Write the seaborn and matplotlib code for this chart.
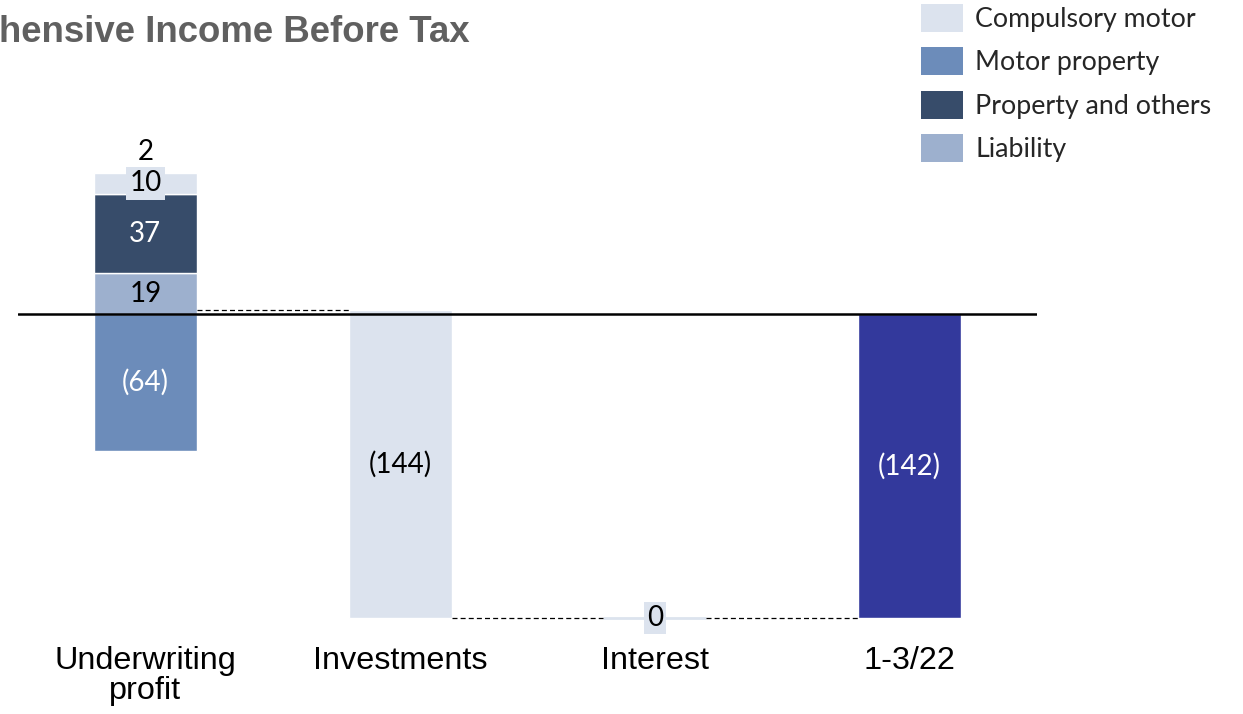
import matplotlib
matplotlib.use("Agg")
import matplotlib.pyplot as plt
from matplotlib.patches import Patch
import seaborn as sns

# ---- data ----
categories = ["Underwriting\nprofit", "Investments", "Interest", "1-3/22"]
segment_names = ["Compulsory motor", "Motor property", "Property and others", "Liability"]
segment_colors = ["#DCE3EE", "#6C8CBA", "#374C6A", "#9DB0CE"]
# underwriting profit split by line of business (stacked upward in this order)
stack_order = ["Motor property", "Liability", "Property and others", "Compulsory motor"]
underwriting_values = {"Compulsory motor": 10, "Motor property": -64,
                       "Property and others": 37, "Liability": 19}
investments_value = -144
interest_value = 0
total_color = "#33399C"

# ---- figure ----
W, H = 1243, 714
sns.set_theme(style="white")
plt.rcParams["font.family"] = ["Lato", "DejaVu Sans"]
fig = plt.figure(figsize=(W / 100, H / 100), dpi=100)
ax = fig.add_axes([18 / W, (H - 640) / H, 1019 / W, 510 / H])

BAR_W = 0.405


def bar(cat, height, bottom, color, **kw):
    sns.barplot(x=[cat], y=[height], order=categories, width=BAR_W, bottom=bottom,
                color=color, saturation=1, errorbar=None, ax=ax, **kw)


def fmt(v):
    if v < 0:
        return f"({abs(v):g})"
    return f"{v:g}"


label_font = dict(fontsize=20, family=["Lato", "DejaVu Sans"])

# stacked underwriting bar: negatives go down from zero, positives stack up
pos_base, neg_base = 0, 0
seg_pos = {}
for name in stack_order:
    v = underwriting_values[name]
    col = segment_colors[segment_names.index(name)]
    if v >= 0:
        base = pos_base
        pos_base += v
    else:
        base = neg_base
        neg_base += v
    seg_pos[name] = (base, v)
    bar(categories[0], v, base, col)

uw_total = sum(underwriting_values.values())

# segment value labels
label_colors = {"Motor property": "white", "Liability": "black",
                "Property and others": "white", "Compulsory motor": "black"}
for name in stack_order:
    base, v = seg_pos[name]
    mid = base + v / 2
    kw = {}
    if name == "Compulsory motor":
        kw["bbox"] = dict(boxstyle="square,pad=0.12", fc=segment_colors[0], ec="none")
    ax.text(0, mid, fmt(v), ha="center", va="center", color=label_colors[name],
            zorder=6, **label_font, **kw)
ax.text(0, pos_base + 3.5, fmt(uw_total), ha="center", va="bottom", color="black",
        zorder=6, **label_font)

# investments floating bar
inv_end = uw_total + investments_value
bar(categories[1], investments_value, uw_total, segment_colors[0])
ax.text(1, uw_total + investments_value / 2, fmt(investments_value), ha="center",
        va="center", color="black", zorder=6, **label_font)

# interest (zero-height) bar
int_end = inv_end + interest_value
bar(categories[2], interest_value, inv_end, segment_colors[0],
    edgecolor=segment_colors[0], linewidth=2)
ax.text(2, int_end, fmt(interest_value), ha="center", va="center", color="black",
        zorder=6, bbox=dict(boxstyle="square,pad=0.1", fc=segment_colors[0], ec="none"),
        **label_font)

# total bar
final_total = int_end
bar(categories[3], final_total, 0, total_color)
ax.text(3, final_total / 2, fmt(final_total), ha="center", va="center", color="white",
        zorder=6, **label_font)

# dashed connectors between bars
h = BAR_W / 2
dash = dict(color="black", lw=0.9, ls=(0, (4, 2.5)), zorder=4)
ax.plot([0 + h, 1 - h], [uw_total, uw_total], **dash)
ax.plot([1 + h, 2 - h], [inv_end, inv_end], **dash)
ax.plot([2 + h, 3 - h], [int_end, int_end], **dash)

# zero line
ax.axhline(0, color="black", lw=1.8, zorder=5)

ax.set_xlim(-0.5, 3.5)
ax.set_ylim(-(640 - 314) / 2.14, (314 - 130) / 2.14)
ax.set_yticks([])
ax.set_xticks(range(len(categories)))
ax.set_xticklabels(categories, fontsize=23.3, family=["Liberation Sans", "DejaVu Sans"],
                   color="black", linespacing=1.02)
ax.tick_params(axis="x", length=0, pad=4)
ax.set_xlabel("")
ax.set_ylabel("")
for s in ax.spines.values():
    s.set_visible(False)

# title
fig.text(-0.001, (H - 42) / H, "hensive Income Before Tax", ha="left", va="baseline",
         fontsize=26.4, fontweight="bold", color="#606060",
         family=["Liberation Sans", "DejaVu Sans"])

# legend
handles = [Patch(facecolor=c, edgecolor="none") for c in segment_colors]
fig.legend(handles, segment_names, loc="upper left",
           bbox_to_anchor=(921 / W, 1 - 4 / H), frameon=False, borderpad=0,
           borderaxespad=0, handlelength=1.57, handleheight=1.22,
           labelspacing=0.58, handletextpad=0.45,
           prop=dict(family=["Lato", "DejaVu Sans"], size=19.3))

fig.savefig("out.png", dpi=100)
